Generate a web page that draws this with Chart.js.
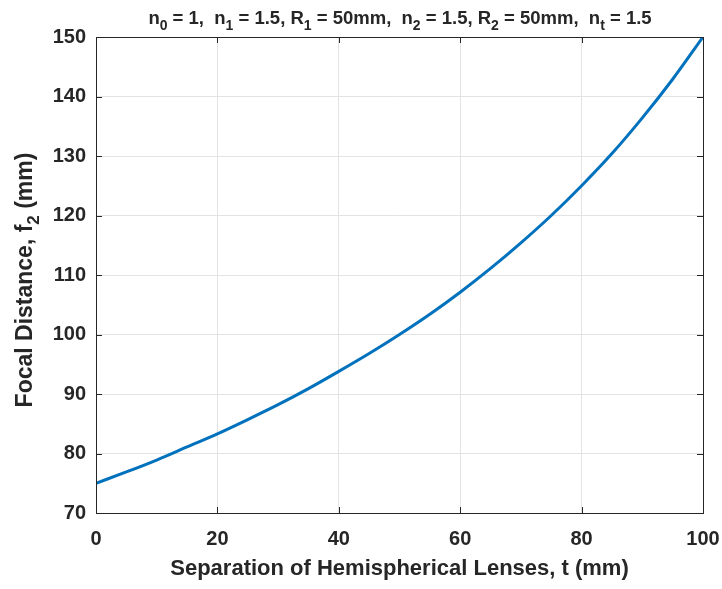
<!DOCTYPE html>
<html>
<head>
<meta charset="utf-8">
<script src="https://cdn.jsdelivr.net/npm/chart.js@4/dist/chart.umd.min.js"></script>
<style>
  html, body { margin: 0; padding: 0; background: #fff; }
  #wrap { width: 722px; height: 589px; }
</style>
</head>
<body>
<div id="wrap"><canvas id="myChart" width="722" height="589"></canvas></div>
<script>
'use strict';

// separation t (mm) and focal distance f2 (mm)
var separation = [0, 5, 10, 15, 20, 25, 30, 35, 40, 45, 50, 55, 60, 65, 70, 75, 80, 85, 90, 95, 100];
var focalDistance = [75.0, 76.9, 78.9, 81.1, 83.3, 85.7, 88.2, 90.9, 93.8, 96.8, 100.0,
                     103.4, 107.1, 111.1, 115.4, 120.0, 125.0, 130.4, 136.4, 142.9, 150.0];
var xTicks = [0, 20, 40, 60, 80, 100];
var yTicks = [70, 80, 90, 100, 110, 120, 130, 140, 150];

var textColor = '#262626';
var fontFamily = '"Liberation Sans", Arial, sans-serif';

// draws a string made of pieces; pieces with sub:true go lower and smaller
function drawRich(ctx, parts, size, x, y, align) {
  var subSize = Math.round(size * 0.75);
  var total = 0;
  parts.forEach(function (p) {
    ctx.font = 'bold ' + (p.sub ? subSize : size) + 'px ' + fontFamily;
    p.w = ctx.measureText(p.t).width;
    total += p.w;
  });
  var cx = align === 'center' ? x - total / 2 : x;
  parts.forEach(function (p) {
    ctx.font = 'bold ' + (p.sub ? subSize : size) + 'px ' + fontFamily;
    ctx.fillText(p.t, cx, p.sub ? y + size * 0.3 : y);
    cx += p.w;
  });
}

var frame = {
  id: 'frame',
  afterDraw: function (chart) {
    var ctx = chart.ctx;
    var a = chart.chartArea;
    var xs = chart.scales.x, ys = chart.scales.y;
    ctx.save();
    ctx.strokeStyle = textColor;
    ctx.lineWidth = 1;
    // inward ticks
    ctx.beginPath();
    xTicks.forEach(function (v) {
      var px = Math.round(xs.getPixelForValue(v)) + 0.5;
      ctx.moveTo(px, a.bottom); ctx.lineTo(px, a.bottom - 6);
      ctx.moveTo(px, a.top); ctx.lineTo(px, a.top + 6);
    });
    yTicks.forEach(function (v) {
      var py = Math.round(ys.getPixelForValue(v)) + 0.5;
      ctx.moveTo(a.left, py); ctx.lineTo(a.left + 6, py);
      ctx.moveTo(a.right, py); ctx.lineTo(a.right - 6, py);
    });
    ctx.stroke();
    ctx.strokeRect(Math.round(a.left) + 0.5, Math.round(a.top) + 0.5,
                   Math.round(a.right - a.left), Math.round(a.bottom - a.top));

    ctx.fillStyle = textColor;
    ctx.textBaseline = 'alphabetic';
    // title
    drawRich(ctx, [
      { t: 'n' }, { t: '0', sub: true }, { t: ' = 1,  n' }, { t: '1', sub: true },
      { t: ' = 1.5, R' }, { t: '1', sub: true }, { t: ' = 50mm,  n' }, { t: '2', sub: true },
      { t: ' = 1.5, R' }, { t: '2', sub: true }, { t: ' = 50mm,  n' }, { t: 't', sub: true },
      { t: ' = 1.5' }
    ], 18.5, 400, 24, 'center');

    // x axis label
    drawRich(ctx, [{ t: 'Separation of Hemispherical Lenses, t (mm)' }], 22,
             (a.left + a.right) / 2, 575, 'center');

    // y axis label
    ctx.translate(32, 280);
    ctx.rotate(-Math.PI / 2);
    drawRich(ctx, [{ t: 'Focal Distance, f' }, { t: '2', sub: true }, { t: ' (mm)' }], 23,
             0, 0, 'center');
    ctx.restore();
  }
};

var ctx = document.getElementById('myChart').getContext('2d');

var points = separation.map(function (t, i) {
  return { x: t, y: focalDistance[i] };
});

new Chart(ctx, {
  type: 'line',
  data: {
    datasets: [{
      data: points,
      borderColor: '#0072BD',
      borderWidth: 3,
      pointRadius: 0,
      cubicInterpolationMode: 'monotone',
      fill: false
    }]
  },
  options: {
    responsive: false,
    animation: false,
    layout: { padding: { left: 0, top: 37, right: 19, bottom: 0 } },
    plugins: {
      legend: { display: false },
      tooltip: { enabled: false }
    },
    scales: {
      x: {
        type: 'linear',
        min: 0,
        max: 100,
        afterBuildTicks: function (scale) {
          scale.ticks = xTicks.map(function (v) { return { value: v }; });
        },
        afterFit: function (scale) {
          scale.height = 76;
          scale.paddingLeft = 0;
          scale.paddingRight = 0;
        },
        grid: { color: '#e3e3e3', drawTicks: false },
        border: { display: false },
        ticks: {
          padding: 14,
          color: textColor,
          font: { family: fontFamily, size: 20, weight: 'bold' }
        }
      },
      y: {
        type: 'linear',
        min: 70,
        max: 150,
        afterBuildTicks: function (scale) {
          scale.ticks = yTicks.map(function (v) { return { value: v }; });
        },
        afterFit: function (scale) {
          scale.width = 96;
          scale.paddingTop = 0;
          scale.paddingBottom = 0;
        },
        grid: { color: '#e3e3e3', drawTicks: false },
        border: { display: false },
        ticks: {
          padding: 10,
          color: textColor,
          font: { family: fontFamily, size: 20, weight: 'bold' }
        }
      }
    }
  },
  plugins: [frame]
});
</script>
</body>
</html>
